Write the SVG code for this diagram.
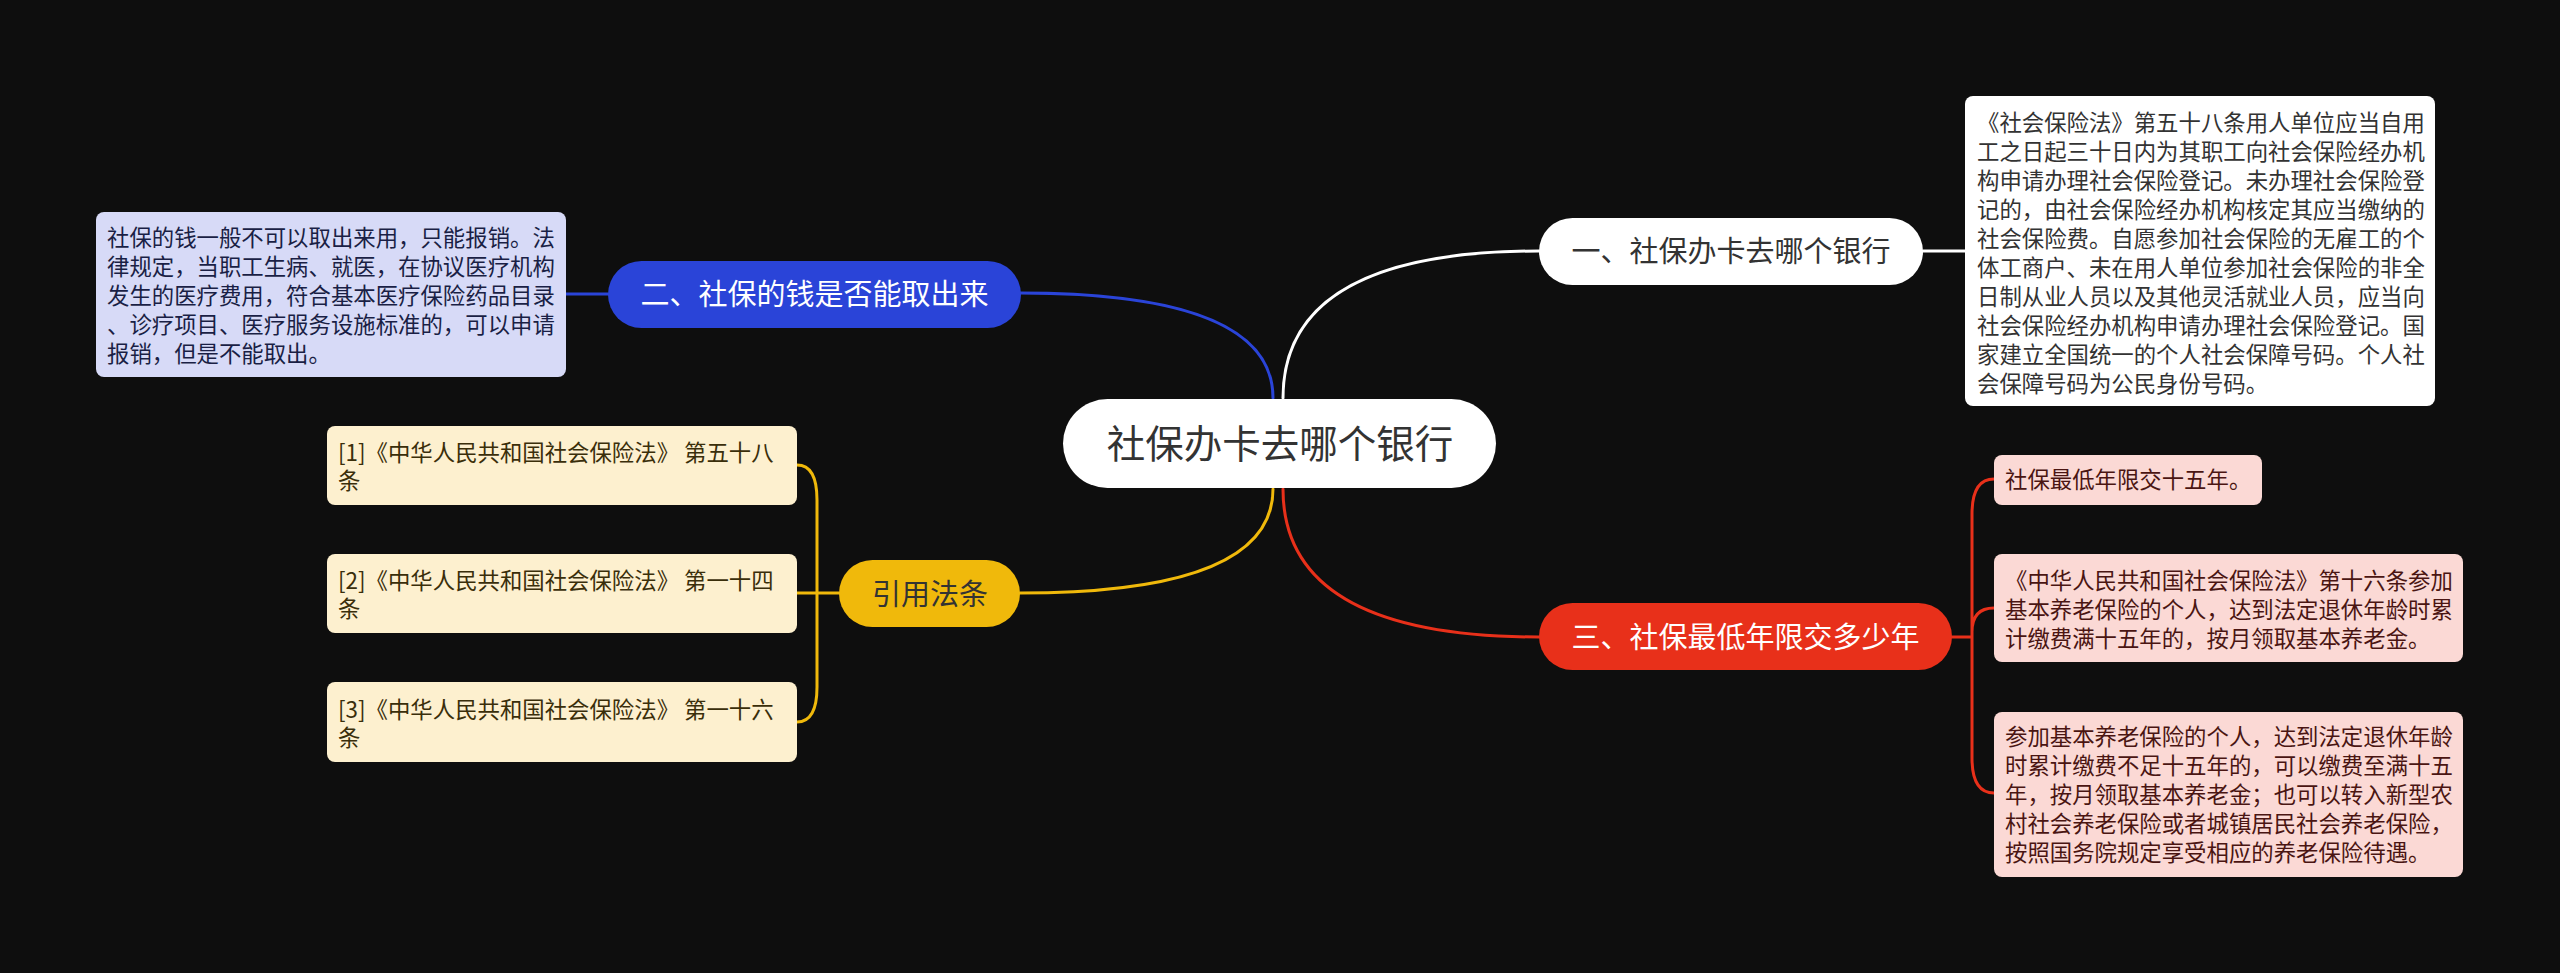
<svg xmlns="http://www.w3.org/2000/svg" width="2560" height="973" viewBox="0 0 2560 973">
<style>
text{font-family:"Noto Sans CJK SC","Noto Sans",sans-serif;}
.d{font-size:22.4px;}
.p{font-size:29px;text-anchor:middle;}
.c{fill:none;stroke-width:3;stroke-linecap:round;}
</style>
<rect x="0" y="0" width="2560" height="973" fill="#0e0e0e"/>
<g id="connectors">
<path class="c" stroke="#ffffff" d="M1283,398 Q1283,251 1539,251"/>
<path class="c" stroke="#ffffff" d="M1923,251 L1965,251"/>
<path class="c" stroke="#2a44d8" d="M1273,398 Q1273,293 1020,293"/>
<path class="c" stroke="#2a44d8" d="M608,294 L566,294"/>
<path class="c" stroke="#f0b90b" d="M1273,489 Q1273,593 1020,593"/>
<path class="c" stroke="#f0b90b" d="M839,593 L797,593 M797,465 Q817,465 817,500 L817,687 Q817,722 797,722"/>
<path class="c" stroke="#e8301a" d="M1283,489 Q1283,637 1539,637"/>
<path class="c" stroke="#e8301a" d="M1952,637 L1972,637 M1994,479 Q1972,479 1972,514 L1972,758 Q1972,793 1994,793 M1972,632 Q1972,608 1994,608"/>
</g>
<g id="root">
<rect x="1063" y="399" width="433" height="89" rx="44.5" fill="#ffffff"/>
<text x="1280" y="458" style="font-size:38.5px;text-anchor:middle" fill="#333333">社保办卡去哪个银行</text>
</g>
<g id="n1">
<rect x="1539" y="218" width="384" height="67" rx="33.5" fill="#ffffff"/>
<text class="p" x="1731" y="262" fill="#333333">一、社保办卡去哪个银行</text>
</g>
<g id="n1d">
<rect x="1965" y="96" width="470" height="310" rx="8" fill="#ffffff"/>
<text class="d" fill="#333333">
<tspan x="1977" y="131">《社会保险法》第五十八条用人单位应当自用</tspan>
<tspan x="1977" y="160">工之日起三十日内为其职工向社会保险经办机</tspan>
<tspan x="1977" y="189">构申请办理社会保险登记。未办理社会保险登</tspan>
<tspan x="1977" y="218">记的，由社会保险经办机构核定其应当缴纳的</tspan>
<tspan x="1977" y="247">社会保险费。自愿参加社会保险的无雇工的个</tspan>
<tspan x="1977" y="276">体工商户、未在用人单位参加社会保险的非全</tspan>
<tspan x="1977" y="305">日制从业人员以及其他灵活就业人员，应当向</tspan>
<tspan x="1977" y="334">社会保险经办机构申请办理社会保险登记。国</tspan>
<tspan x="1977" y="363">家建立全国统一的个人社会保障号码。个人社</tspan>
<tspan x="1977" y="392">会保障号码为公民身份号码。</tspan>
</text>
</g>
<g id="n2">
<rect x="608" y="261" width="413" height="67" rx="33.5" fill="#2a44d8"/>
<text class="p" x="814.5" y="305" fill="#ffffff">二、社保的钱是否能取出来</text>
</g>
<g id="n2d">
<rect x="96" y="212" width="470" height="165" rx="8" fill="#d7daf7"/>
<text class="d" fill="#1a1f45">
<tspan x="107" y="246">社保的钱一般不可以取出来用，只能报销。法</tspan>
<tspan x="107" y="275">律规定，当职工生病、就医，在协议医疗机构</tspan>
<tspan x="107" y="304">发生的医疗费用，符合基本医疗保险药品目录</tspan>
<tspan x="107" y="333">、诊疗项目、医疗服务设施标准的，可以申请</tspan>
<tspan x="107" y="362">报销，但是不能取出。</tspan>
</text>
</g>
<g id="n3">
<rect x="839" y="560" width="181" height="67" rx="33.5" fill="#f0b90b"/>
<text class="p" x="930" y="605" fill="#333333">引用法条</text>
</g>
<g id="n3a">
<rect x="327" y="426" width="470" height="79" rx="8" fill="#fdf0cf"/>
<text class="d" fill="#3a2e0a"><tspan x="338" y="461">[1]《中华人民共和国社会保险法》 第五十八</tspan><tspan x="338" y="489">条</tspan></text>
</g>
<g id="n3b">
<rect x="327" y="554" width="470" height="79" rx="8" fill="#fdf0cf"/>
<text class="d" fill="#3a2e0a"><tspan x="338" y="589">[2]《中华人民共和国社会保险法》 第一十四</tspan><tspan x="338" y="617">条</tspan></text>
</g>
<g id="n3c">
<rect x="327" y="682" width="470" height="80" rx="8" fill="#fdf0cf"/>
<text class="d" fill="#3a2e0a"><tspan x="338" y="718">[3]《中华人民共和国社会保险法》 第一十六</tspan><tspan x="338" y="746">条</tspan></text>
</g>
<g id="n4">
<rect x="1539" y="603" width="413" height="67" rx="33.5" fill="#e8301a"/>
<text class="p" x="1745.5" y="648" fill="#ffffff">三、社保最低年限交多少年</text>
</g>
<g id="n4a">
<rect x="1994" y="455" width="268" height="50" rx="8" fill="#fbd9d5"/>
<text class="d" x="2005" y="488" fill="#4a1512">社保最低年限交十五年。</text>
</g>
<g id="n4b">
<rect x="1994" y="554" width="469" height="108" rx="8" fill="#fbd9d5"/>
<text class="d" fill="#4a1512">
<tspan x="2005" y="589">《中华人民共和国社会保险法》第十六条参加</tspan>
<tspan x="2005" y="618">基本养老保险的个人，达到法定退休年龄时累</tspan>
<tspan x="2005" y="647">计缴费满十五年的，按月领取基本养老金。</tspan>
</text>
</g>
<g id="n4c">
<rect x="1994" y="712" width="469" height="165" rx="8" fill="#fbd9d5"/>
<text class="d" fill="#4a1512">
<tspan x="2005" y="745">参加基本养老保险的个人，达到法定退休年龄</tspan>
<tspan x="2005" y="774">时累计缴费不足十五年的，可以缴费至满十五</tspan>
<tspan x="2005" y="803">年，按月领取基本养老金；也可以转入新型农</tspan>
<tspan x="2005" y="832">村社会养老保险或者城镇居民社会养老保险，</tspan>
<tspan x="2005" y="861">按照国务院规定享受相应的养老保险待遇。</tspan>
</text>
</g>
</svg>
